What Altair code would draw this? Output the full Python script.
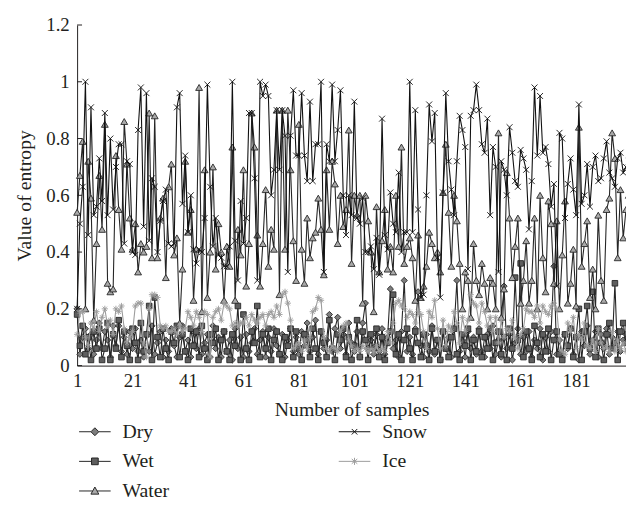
import altair as alt
import pandas as pd

samples = list(range(1, 201))

dry = [0.20, 0.04, 0.10, 0.13, 0.06, 0.11, 0.04, 0.09, 0.15, 0.06,
       0.12, 0.09, 0.03, 0.14, 0.07, 0.14, 0.05, 0.10, 0.04, 0.12,
       0.06, 0.13, 0.05, 0.09, 0.03, 0.11, 0.05, 0.14, 0.04, 0.08,
       0.12, 0.03, 0.09, 0.05, 0.13, 0.07, 0.03, 0.10, 0.14, 0.05,
       0.09, 0.03, 0.12, 0.06, 0.13, 0.04, 0.08, 0.11, 0.03, 0.14,
       0.06, 0.10, 0.03, 0.12, 0.05, 0.09, 0.02, 0.13, 0.06, 0.10,
       0.03, 0.11, 0.05, 0.08, 0.13, 0.04, 0.09, 0.12, 0.03, 0.10,
       0.05, 0.13, 0.07, 0.04, 0.11, 0.03, 0.09, 0.13, 0.05, 0.10,
       0.04, 0.12, 0.07, 0.15, 0.05, 0.10, 0.16, 0.04, 0.12, 0.06,
       0.09, 0.18, 0.05, 0.13, 0.17, 0.06, 0.11, 0.04, 0.15, 0.08,
       0.05, 0.12, 0.03, 0.15, 0.22, 0.06, 0.09, 0.04, 0.11, 0.05,
       0.13, 0.04, 0.10, 0.27, 0.06, 0.09, 0.03, 0.12, 0.30, 0.05,
       0.10, 0.04, 0.13, 0.26, 0.07, 0.03, 0.11, 0.05, 0.14, 0.04,
       0.09, 0.02, 0.12, 0.06, 0.10, 0.03, 0.13, 0.30, 0.05, 0.09,
       0.03, 0.12, 0.06, 0.10, 0.04, 0.13, 0.05, 0.03, 0.11, 0.06,
       0.14, 0.04, 0.09, 0.03, 0.28, 0.06, 0.11, 0.02, 0.08, 0.13,
       0.04, 0.10, 0.05, 0.12, 0.03, 0.09, 0.06, 0.13, 0.02, 0.10,
       0.05, 0.12, 0.35, 0.04, 0.09, 0.03, 0.11, 0.06, 0.13, 0.04,
       0.10, 0.02, 0.12, 0.07, 0.14, 0.04, 0.09, 0.12, 0.03, 0.11,
       0.06, 0.13, 0.04, 0.10, 0.08, 0.12, 0.05, 0.09, 0.11, 0.06]

wet = [0.18, 0.07, 0.14, 0.04, 0.10, 0.02, 0.12, 0.06, 0.13, 0.02,
       0.06, 0.15, 0.02, 0.11, 0.06, 0.16, 0.03, 0.12, 0.07, 0.02,
       0.13, 0.08, 0.02, 0.15, 0.05, 0.11, 0.21, 0.02, 0.24, 0.10,
       0.03, 0.13, 0.06, 0.02, 0.12, 0.08, 0.14, 0.03, 0.11, 0.05,
       0.02, 0.13, 0.07, 0.12, 0.03, 0.14, 0.06, 0.02, 0.11, 0.08,
       0.13, 0.02, 0.09, 0.12, 0.05, 0.02, 0.11, 0.07, 0.21, 0.02,
       0.18, 0.06, 0.02, 0.12, 0.08, 0.21, 0.03, 0.11, 0.06, 0.13,
       0.02, 0.09, 0.12, 0.04, 0.02, 0.10, 0.07, 0.13, 0.03, 0.12,
       0.06, 0.02, 0.11, 0.09, 0.03, 0.13, 0.06, 0.02, 0.12, 0.08,
       0.03, 0.16, 0.06, 0.02, 0.11, 0.09, 0.13, 0.03, 0.10, 0.02,
       0.07, 0.16, 0.03, 0.12, 0.09, 0.02, 0.11, 0.06, 0.13, 0.03,
       0.10, 0.02, 0.08, 0.12, 0.25, 0.04, 0.11, 0.02, 0.09, 0.13,
       0.06, 0.02, 0.12, 0.08, 0.03, 0.11, 0.07, 0.02, 0.13, 0.05,
       0.09, 0.02, 0.12, 0.06, 0.03, 0.10, 0.13, 0.04, 0.02, 0.11,
       0.07, 0.13, 0.02, 0.09, 0.05, 0.12, 0.03, 0.10, 0.06, 0.13,
       0.02, 0.08, 0.12, 0.04, 0.10, 0.02, 0.13, 0.06, 0.31, 0.09,
       0.36, 0.03, 0.12, 0.06, 0.02, 0.14, 0.08, 0.03, 0.11, 0.05,
       0.13, 0.02, 0.09, 0.12, 0.04, 0.02, 0.11, 0.07, 0.13, 0.03,
       0.10, 0.20, 0.02, 0.12, 0.21, 0.06, 0.26, 0.03, 0.13, 0.08,
       0.02, 0.11, 0.15, 0.06, 0.29, 0.02, 0.12, 0.15, 0.08, 0.13]

water = [0.54, 0.67, 0.79, 0.20, 0.72, 0.59, 0.16, 0.43, 0.67, 0.48,
         0.85, 0.29, 0.26, 0.27, 0.74, 0.55, 0.41, 0.86, 0.71, 0.52,
         0.41, 0.50, 0.33, 0.43, 0.40, 0.42, 0.89, 0.38, 0.88, 0.38,
         0.52, 0.59, 0.31, 0.63, 0.71, 0.39, 0.45, 0.15, 0.34, 0.72,
         0.47, 0.55, 0.23, 0.41, 0.98, 0.19, 0.69, 0.24, 0.40, 0.70,
         0.34, 0.50, 0.40, 0.23, 0.42, 0.35, 0.77, 0.23, 0.48, 0.39,
         0.69, 0.28, 0.43, 0.89, 0.77, 0.46, 0.28, 0.43, 0.62, 0.35,
         0.48, 0.41, 0.90, 0.25, 0.90, 0.41, 0.90, 0.69, 0.44, 0.30,
         0.85, 0.41, 0.29, 0.52, 0.38, 0.45, 0.47, 0.59, 0.48, 0.32,
         0.69, 0.48, 0.72, 0.64, 0.43, 0.60, 0.49, 0.55, 0.83, 0.36,
         0.60, 0.53, 0.60, 0.22, 0.60, 0.51, 0.40, 0.19, 0.56, 0.33,
         0.44, 0.55, 0.34, 0.42, 0.33, 0.60, 0.42, 0.77, 0.36, 0.42,
         0.45, 0.38, 0.23, 0.46, 0.24, 0.28, 0.35, 0.47, 0.43, 0.38,
         0.40, 0.33, 0.61, 0.78, 0.54, 0.35, 0.60, 0.51, 0.36, 0.20,
         0.33, 0.30, 0.17, 0.43, 0.30, 0.25, 0.36, 0.29, 0.20, 0.31,
         0.29, 0.20, 0.82, 0.17, 0.27, 0.68, 0.52, 0.31, 0.42, 0.52,
         0.22, 0.30, 0.44, 0.22, 0.30, 0.52, 0.20, 0.60, 0.38, 0.26,
         0.58, 0.50, 0.29, 0.51, 0.20, 0.39, 0.58, 0.22, 0.29, 0.41,
         0.21, 0.84, 0.35, 0.43, 0.51, 0.24, 0.34, 0.20, 0.53, 0.30,
         0.23, 0.55, 0.59, 0.82, 0.73, 0.38, 0.62, 0.45, 0.55, 0.60]

snow = [0.20, 0.50, 0.63, 1.00, 0.46, 0.91, 0.53, 0.56, 0.73, 0.58,
        0.89, 0.53, 0.80, 0.55, 0.70, 0.78, 0.78, 0.43, 0.72, 0.71,
        0.40, 0.39, 0.83, 0.98, 0.49, 0.96, 0.44, 0.66, 0.63, 0.40,
        0.51, 0.58, 0.62, 0.43, 0.42, 0.43, 0.91, 0.96, 0.57, 0.74,
        0.47, 0.60, 0.41, 0.36, 0.41, 0.40, 0.52, 0.99, 0.63, 0.42,
        0.52, 0.39, 0.38, 0.35, 0.35, 0.42, 1.00, 0.44, 0.30, 0.58,
        0.43, 0.52, 0.89, 0.89, 0.66, 0.30, 1.00, 0.95, 0.99, 0.95,
        0.60, 0.69, 0.90, 0.69, 0.90, 0.81, 0.33, 0.81, 0.97, 0.74,
        0.74, 0.96, 0.74, 0.65, 0.93, 0.65, 0.78, 0.78, 1.00, 0.33,
        0.78, 0.72, 0.99, 0.72, 0.83, 0.97, 0.60, 0.46, 0.60, 0.53,
        0.93, 0.52, 0.50, 0.59, 0.40, 0.40, 0.42, 0.34, 0.45, 0.32,
        0.87, 0.46, 0.41, 0.61, 0.50, 0.47, 0.68, 0.40, 0.47, 0.47,
        1.00, 0.47, 0.90, 0.55, 0.24, 0.25, 0.60, 0.92, 0.79, 0.89,
        0.38, 0.24, 0.61, 0.96, 0.72, 0.62, 0.53, 0.72, 0.88, 0.83,
        0.77, 0.34, 0.88, 0.90, 0.99, 0.90, 0.78, 0.75, 0.87, 0.53,
        0.77, 0.70, 0.33, 0.72, 0.69, 0.60, 0.84, 0.75, 0.65, 0.63,
        0.76, 0.73, 0.69, 0.48, 0.65, 0.98, 0.74, 0.95, 0.75, 0.77,
        0.71, 0.56, 0.64, 0.28, 0.82, 0.80, 0.52, 0.64, 0.73, 0.62,
        0.53, 0.92, 0.57, 0.60, 0.71, 0.56, 0.70, 0.74, 0.65, 0.66,
        0.73, 0.79, 0.68, 0.66, 0.63, 0.73, 0.75, 0.68, 0.70, 0.72]

ice = [0.11, 0.19, 0.19, 0.10, 0.07, 0.15, 0.13, 0.19, 0.12, 0.17,
       0.20, 0.14, 0.16, 0.11, 0.20, 0.19, 0.21, 0.13, 0.08, 0.10,
       0.12, 0.21, 0.22, 0.22, 0.08, 0.03, 0.20, 0.25, 0.25, 0.24,
       0.14, 0.13, 0.14, 0.12, 0.12, 0.13, 0.11, 0.14, 0.12, 0.13,
       0.19, 0.17, 0.14, 0.19, 0.17, 0.12, 0.19, 0.18, 0.03, 0.17,
       0.19, 0.20, 0.16, 0.22, 0.21, 0.20, 0.14, 0.15, 0.14, 0.15,
       0.15, 0.17, 0.14, 0.18, 0.16, 0.15, 0.17, 0.18, 0.14, 0.18,
       0.19, 0.17, 0.21, 0.18, 0.25, 0.26, 0.22, 0.16, 0.06, 0.07,
       0.08, 0.05, 0.09, 0.06, 0.10, 0.19, 0.20, 0.24, 0.23, 0.10,
       0.06, 0.05, 0.07, 0.06, 0.05, 0.12, 0.14, 0.15, 0.09, 0.07,
       0.05, 0.06, 0.05, 0.07, 0.06, 0.05, 0.06, 0.05, 0.07, 0.05,
       0.06, 0.05, 0.12, 0.08, 0.15, 0.22, 0.23, 0.21, 0.20, 0.17,
       0.19, 0.18, 0.15, 0.19, 0.18, 0.12, 0.06, 0.19, 0.17, 0.23,
       0.13, 0.06, 0.16, 0.07, 0.14, 0.12, 0.19, 0.15, 0.08, 0.17,
       0.12, 0.16, 0.25, 0.22, 0.21, 0.15, 0.22, 0.19, 0.14, 0.17,
       0.12, 0.17, 0.08, 0.16, 0.10, 0.13, 0.12, 0.16, 0.10, 0.06,
       0.11, 0.13, 0.20, 0.19, 0.19, 0.17, 0.21, 0.15, 0.21, 0.19,
       0.18, 0.21, 0.22, 0.20, 0.09, 0.05, 0.04, 0.15, 0.12, 0.17,
       0.06, 0.11, 0.09, 0.15, 0.07, 0.06, 0.09, 0.05, 0.13, 0.08,
       0.06, 0.07, 0.05, 0.12, 0.05, 0.09, 0.06, 0.08, 0.05, 0.07]

series_names = ["Dry", "Wet", "Water", "Snow", "Ice"]
series_values = [dry, wet, water, snow, ice]
x_tick_values = [1, 21, 41, 61, 81, 101, 121, 141, 161, 181]
y_tick_values = [0, 0.2, 0.4, 0.6, 0.8, 1, 1.2]

rows = []
for name, vals in zip(series_names, series_values):
    for s, v in zip(samples, vals):
        rows.append({"sample": s, "value": v, "series": name})
df = pd.DataFrame(rows)

FONT = "Liberation Serif"
TXT = "#231f20"
DARK = "#262626"

X_PATH = "M-1,-1L1,1M-1,1L1,-1"
AST_PATH = "M0,-1L0,1M-1,0L1,0M-0.7,-0.7L0.7,0.7M-0.7,0.7L0.7,-0.7"

styles = {
    "Dry": dict(shape="diamond", size=40, fill="#7d7d7d", stroke=DARK, line=DARK, filled=True),
    "Wet": dict(shape="square", size=32, fill="#5e5e5e", stroke=DARK, line=DARK, filled=True),
    "Water": dict(shape="triangle-up", size=48, fill="#a9a9a9", stroke=DARK, line=DARK, filled=True),
    "Snow": dict(shape=X_PATH, size=36, fill=None, stroke="#111111", line="#111111", filled=False),
    "Ice": dict(shape=AST_PATH, size=40, fill=None, stroke="#9c9c9c", line="#9c9c9c", filled=False),
}

yscale = alt.Scale(domain=[0, 1.2], nice=False)
xenc = alt.X("sample:Q",
             scale=alt.Scale(domain=[1, 199], nice=False, zero=False),
             axis=alt.Axis(values=x_tick_values, ticks=False, grid=False, domainColor=TXT,
                           domainWidth=1, labelFont=FONT, labelFontSize=19, labelColor=TXT,
                           labelPadding=6, labelFlush=False, titleFont=FONT, titleFontSize=20,
                           titleFontWeight="normal", titleColor=TXT, titlePadding=10),
             title="Number of samples")
yenc = alt.Y("value:Q", scale=yscale,
             axis=alt.Axis(values=y_tick_values, format="~g", ticks=False, grid=False,
                           domainColor=TXT, domainWidth=1, labelFont=FONT, labelFontSize=19,
                           labelColor=TXT, labelPadding=8, labelFlush=False, titleFont=FONT,
                           titleFontSize=20, titleFontWeight="normal", titleColor=TXT,
                           titlePadding=11),
             title="Value of entropy")

layers = []
base = alt.Chart(df)
for name in series_names:
    st = styles[name]
    sub = base.transform_filter(alt.datum.series == name)
    layers.append(sub.mark_line(color=st["line"], strokeWidth=1.1).encode(x=xenc, y=yenc))
    pkw = dict(shape=st["shape"], size=st["size"], stroke=st["stroke"], strokeWidth=0.9,
               opacity=1, filled=st["filled"])
    if st["fill"]:
        pkw["fill"] = st["fill"]
    layers.append(sub.mark_point(**pkw).encode(x=xenc, y=yenc))

# inside tick marks on the y axis
ticks_df = pd.DataFrame({"value": y_tick_values})
tick_layer = alt.Chart(ticks_df).mark_rule(color=TXT, strokeWidth=1).encode(
    y=yenc, x=alt.value(0), x2=alt.value(5))
layers.append(tick_layer)

# legend (symbols include the connecting line)
legend_order = ["Dry", "Wet", "Water", "Snow", "Ice"]
leg_shapes = {
    "Dry": "M-4,0L-1,0M1,0L4,0M0,-1L1,0L0,1L-1,0Z",
    "Wet": "M-4,0L-0.85,0M0.85,0L4,0M-0.85,-0.85L0.85,-0.85L0.85,0.85L-0.85,0.85Z",
    "Water": "M-4,0L-0.56,0M0.56,0L4,0M0,-1L1,0.8L-1,0.8Z",
    "Snow": "M-4,0L4,0M-0.7,-0.7L0.7,0.7M-0.7,0.7L0.7,-0.7",
    "Ice": "M-4,0L4,0M0,-0.9L0,0.9M-0.7,-0.6L0.7,0.6M-0.7,0.6L0.7,-0.6",
}
leg_fill = {"Dry": "#7d7d7d", "Wet": "#5e5e5e", "Water": "#a9a9a9", "Snow": "#111111", "Ice": "#9c9c9c"}
leg_stroke = {"Dry": DARK, "Wet": DARK, "Water": DARK, "Snow": "#111111", "Ice": "#9c9c9c"}

legend = alt.Legend(title=None, orient="none", legendX=2, legendY=402, columns=2,
                    columnPadding=169, rowPadding=10, symbolSize=64, symbolOffset=6,
                    labelOffset=18, symbolStrokeWidth=1, symbolOpacity=1,
                    labelFont=FONT, labelFontSize=20, labelColor=TXT, labelLimit=0,
                    padding=0)
legend_df = pd.DataFrame({"series": legend_order})
legend_layer = alt.Chart(legend_df).mark_point(opacity=0, filled=True).encode(
    shape=alt.Shape("series:N", scale=alt.Scale(domain=legend_order,
                                                range=[leg_shapes[n] for n in legend_order]),
                    legend=legend),
    fill=alt.Fill("series:N", scale=alt.Scale(domain=legend_order,
                                              range=[leg_fill[n] for n in legend_order]),
                  legend=legend),
    stroke=alt.Stroke("series:N", scale=alt.Scale(domain=legend_order,
                                                  range=[leg_stroke[n] for n in legend_order]),
                      legend=legend),
)
layers.append(legend_layer)

chart = alt.layer(*layers).properties(
    width=556, height=345,
    autosize=alt.AutoSizeParams(type="none"),
    padding={"left": 70, "top": 14, "right": 0, "bottom": 140},
    background="white",
).configure_view(stroke=None)

chart.save("out.html", embed_options={"renderer": "svg", "actions": False})
